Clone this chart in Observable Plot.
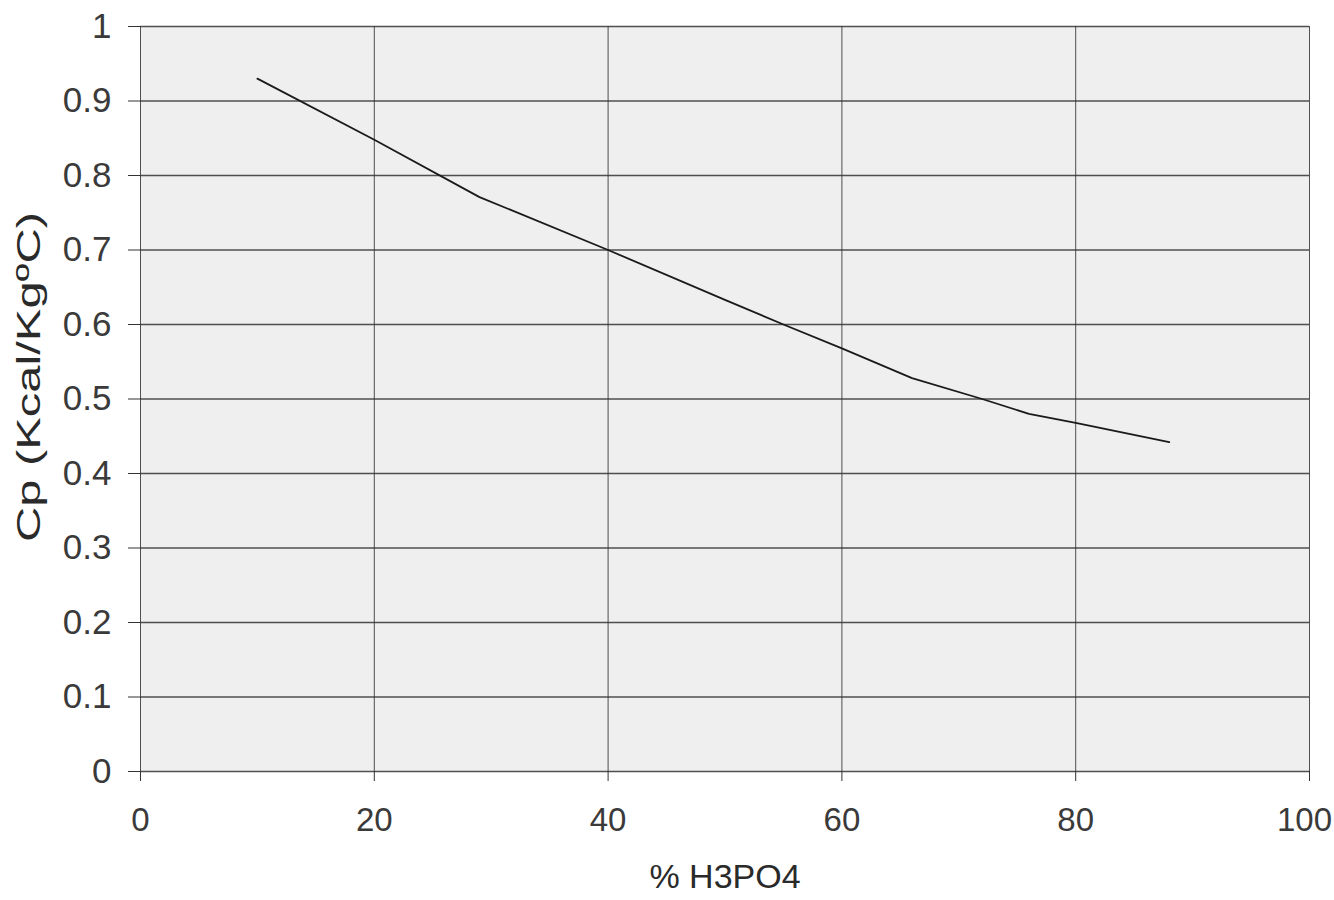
<!DOCTYPE html>
<html>
<head>
<meta charset="utf-8">
<script src="https://cdn.jsdelivr.net/npm/d3@7"></script>
<script src="https://cdn.jsdelivr.net/npm/@observablehq/plot@0.6"></script>
<style>
  html, body { margin: 0; padding: 0; background: #fff; }
  #chart svg { display: block; }
</style>
</head>
<body>
<div id="chart"></div>
<script>
// % H3PO4 (x) and specific heat Cp (y)
const pctH3PO4 = [10, 20, 29, 40, 50, 55, 60, 66, 72, 76, 80, 88];
const cp       = [0.930, 0.848, 0.771, 0.700, 0.633, 0.600, 0.568, 0.528, 0.500, 0.480, 0.468, 0.442];
const xTicks = [0, 20, 40, 60, 80, 100];
const yTicks = [0, 0.1, 0.2, 0.3, 0.4, 0.5, 0.6, 0.7, 0.8, 0.9, 1];
const xTitle = "% H3PO4";
const yTitle = "Cp (Kcal/KgºC)";

const data = pctH3PO4.map((x, i) => ({x, y: cp[i]}));
const xTicksLast = xTicks.filter(d => d >= 100);

const chart = Plot.plot({
  width: 1334,
  height: 900,
  marginLeft: 140,
  marginRight: 25,
  marginTop: 26,
  marginBottom: 129,
  style: {fontFamily: "'Liberation Sans', Arial, sans-serif", fontSize: "33px", background: "white"},
  x: {domain: [0, 100]},
  y: {domain: [0, 1]},
  marks: [
    Plot.frame({fill: "#efefef", stroke: null}),
    Plot.gridX(xTicks, {stroke: "#333", strokeOpacity: 0.85, strokeWidth: 1}),
    Plot.gridY(yTicks, {stroke: "#333", strokeOpacity: 0.85, strokeWidth: 1.3}),
    Plot.axisY(yTicks, {
      tickSize: 12, tickPadding: 17, stroke: "#333",
      tickFormat: d => String(d), fill: "#3a3a3a", fontSize: 35, label: null
    }),
    Plot.axisX(xTicks, {
      tickSize: 10, tickPadding: 26, stroke: "#333",
      tickFormat: d => (d < 100 ? String(d) : ""), fill: "#3a3a3a", fontSize: 33, label: null
    }),
    // last label nudged left so it stays inside the picture
    Plot.axisX(xTicksLast, {
      tickSize: 0, tickPadding: 36, dx: -5,
      tickFormat: d => String(d), fill: "#3a3a3a", fontSize: 33, label: null
    }),
    Plot.line(data, {x: "x", y: "y", stroke: "#1a1a1a", strokeWidth: 1.8}),
    Plot.text([yTitle], {frameAnchor: "left", dx: -111, dy: 143, rotate: -90, textAnchor: "start",
      text: d => d, fontSize: 34, fill: "#2a2a2a"}),
    Plot.text([xTitle], {frameAnchor: "bottom", dy: 116, text: d => d,
      fontSize: 34, fill: "#2a2a2a"})
  ]
});
document.getElementById("chart").appendChild(chart);

// the scanned reference shows the y title stretched along its reading direction
d3.select(chart).selectAll("text").each(function() {
  if (this.textContent === yTitle) {
    d3.select(this).attr("textLength", 330).attr("lengthAdjust", "spacingAndGlyphs");
  }
});
</script>
</body>
</html>
